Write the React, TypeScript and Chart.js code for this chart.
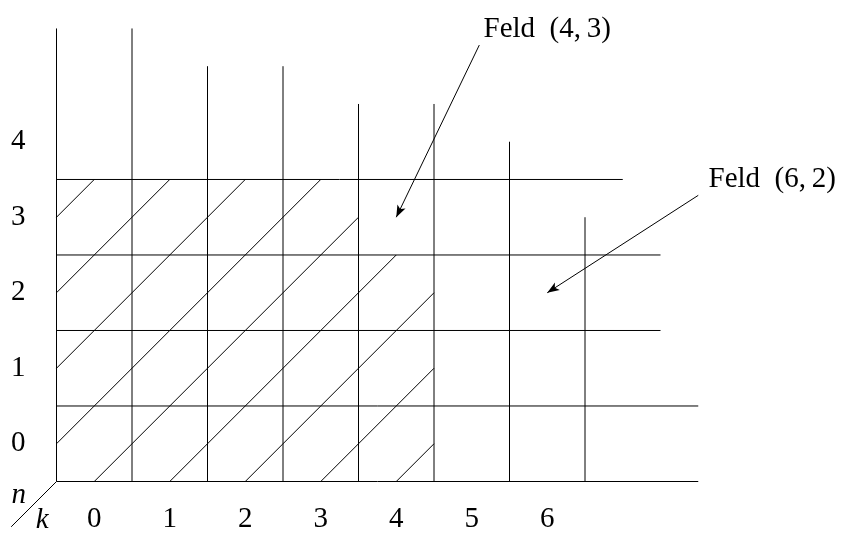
import React, { useEffect, useRef } from "react";
import { Chart, registerables } from "chart.js";

Chart.register(...registerables);

// Tick values and labels
const xTicks = [0, 1, 2, 3, 4, 5, 6];
const xTickLabels = ["0", "1", "2", "3", "4", "5", "6"];
const yTicks = [0, 1, 2, 3, 4];
const yTickLabels = ["0", "1", "2", "3", "4"];

// Grid: vertical column borders (k) and their top ends (n)
const columnBorders = [-0.5, 0.5, 1.5, 2.5, 3.5, 4.5, 5.5, 6.5];
const columnTops = [5.5, 5.5, 5, 5, 4.5, 4.5, 4, 3];
// Grid: horizontal row borders (n) and their right ends (k)
const rowBorders = [-0.5, 0.5, 1.5, 2.5, 3.5];
const rowEnds = [8, 8, 7.5, 7.5, 7];

// Hatching segments
const hatchStartK = [-0.5, -0.5, -0.5, -0.5, 0, 1, 2, 3, 4];
const hatchStartN = [3, 2, 1, 0, -0.5, -0.5, -0.5, -0.5, -0.5];
const hatchEndK = [0, 1, 2, 3, 3.5, 4, 4.5, 4.5, 4.5];
const hatchEndN = [3.5, 3.5, 3.5, 3.5, 3, 2.5, 2, 1, 0];

// Corner diagonal
const cornerK = [-0.5, -1.1];
const cornerN = [-0.5, -1.1];

// Axis names in the corner
const axisNames = ["n", "k"];
const axisNameK = [-1.0, -0.69];
const axisNameN = [-0.785, -1.116];

// Annotations
const noteTexts = ["Feld\u2002(4,\u20093)", "Feld\u2002(6,\u20092)"];
const noteK = [6.0, 8.98];
const noteN = [5.39, 3.4];
const arrowFromK = [5.1, 8.0];
const arrowFromN = [5.28, 3.29];
const arrowToK = [4, 6];
const arrowToN = [3, 2];

const SERIF = "'Liberation Serif', 'Times New Roman', serif";

function seg(x1: number, y1: number, x2: number, y2: number) {
  return {
    type: "scatter" as const,
    data: [
      { x: x1, y: y1 },
      { x: x2, y: y2 },
    ],
    showLine: true,
    borderColor: "#000",
    backgroundColor: "#000",
    borderWidth: 1,
    pointRadius: 0,
    pointHoverRadius: 0,
    clip: false as any,
    fill: false,
    tension: 0,
  };
}

const annotationPlugin = {
  id: "annotations",
  afterDatasetsDraw(chart: any) {
    const { ctx } = chart;
    const xs = chart.scales.x;
    const ys = chart.scales.y;
    ctx.save();
    ctx.fillStyle = "#000";
    // arrowheads
    for (let i = 0; i < arrowToK.length; i++) {
      const x1 = xs.getPixelForValue(arrowFromK[i]);
      const y1 = ys.getPixelForValue(arrowFromN[i]);
      const x2 = xs.getPixelForValue(arrowToK[i]);
      const y2 = ys.getPixelForValue(arrowToN[i]);
      const a = Math.atan2(y2 - y1, x2 - x1);
      const c = Math.cos(a);
      const s = Math.sin(a);
      const L = 12;
      const W = 4.5;
      ctx.beginPath();
      ctx.moveTo(x2, y2);
      ctx.lineTo(x2 - L * c + W * s, y2 - L * s - W * c);
      ctx.lineTo(x2 - 0.75 * L * c, y2 - 0.75 * L * s);
      ctx.lineTo(x2 - L * c - W * s, y2 - L * s + W * c);
      ctx.closePath();
      ctx.fill();
    }
    // notes
    ctx.font = `29px ${SERIF}`;
    ctx.textAlign = "center";
    ctx.textBaseline = "alphabetic";
    for (let i = 0; i < noteTexts.length; i++) {
      ctx.fillText(noteTexts[i], xs.getPixelForValue(noteK[i]), ys.getPixelForValue(noteN[i]));
    }
    // axis names
    ctx.font = `italic 29px ${SERIF}`;
    for (let i = 0; i < axisNames.length; i++) {
      ctx.fillText(axisNames[i], xs.getPixelForValue(axisNameK[i]), ys.getPixelForValue(axisNameN[i]));
    }
    ctx.restore();
  },
};

export default function App() {
  const ref = useRef<HTMLCanvasElement>(null);

  useEffect(() => {
    if (!ref.current) return;
    const datasets: any[] = [];
    columnBorders.forEach((k, i) => datasets.push(seg(k, -0.5, k, columnTops[i])));
    rowBorders.forEach((n, i) => datasets.push(seg(-0.5, n, rowEnds[i], n)));
    hatchStartK.forEach((k, i) => datasets.push(seg(k, hatchStartN[i], hatchEndK[i], hatchEndN[i])));
    datasets.push(seg(cornerK[0], cornerN[0], cornerK[1], cornerN[1]));
    arrowFromK.forEach((k, i) => datasets.push(seg(k, arrowFromN[i], arrowToK[i], arrowToN[i])));

    const tickFont = { family: SERIF, size: 29 };

    const chart = new Chart(ref.current, {
      type: "scatter",
      data: { datasets },
      plugins: [annotationPlugin],
      options: {
        animation: false,
        responsive: true,
        maintainAspectRatio: false,
        events: [],
        layout: { padding: 0 },
        plugins: {
          legend: { display: false },
          tooltip: { enabled: false },
        },
        scales: {
          x: {
            type: "linear",
            position: "bottom",
            min: -0.5,
            max: 9.917,
            grid: { display: false, drawTicks: false },
            border: { display: false },
            afterBuildTicks: (s: any) => {
              s.ticks = xTicks.map((v) => ({ value: v }));
            },
            afterFit: (s: any) => {
              s.height = 51.5;
              s.paddingLeft = 0;
              s.paddingRight = 0;
              s.paddingTop = 0;
              s.paddingBottom = 0;
            },
            ticks: {
              callback: (_v: any, i: number) => xTickLabels[i],
              font: tickFont,
              color: "#000",
              padding: 20,
              autoSkip: false,
              maxRotation: 0,
              minRotation: 0,
            },
          },
          y: {
            type: "linear",
            position: "left",
            min: -0.5,
            max: 5.877,
            grid: { display: false, drawTicks: false },
            border: { display: false },
            afterBuildTicks: (s: any) => {
              s.ticks = yTicks.map((v) => ({ value: v }));
            },
            afterFit: (s: any) => {
              s.width = 56.5;
              s.paddingLeft = 0;
              s.paddingRight = 0;
              s.paddingTop = 0;
              s.paddingBottom = 0;
            },
            ticks: {
              callback: (_v: any, i: number) => yTickLabels[i],
              font: tickFont,
              color: "#000",
              padding: 31,
              autoSkip: false,
            },
          },
        },
      } as any,
    });
    return () => chart.destroy();
  }, []);

  return (
    <div style={{ position: "absolute", left: 0, top: 0, width: 843, height: 533, background: "#fff" }}>
      <canvas ref={ref} />
    </div>
  );
}
